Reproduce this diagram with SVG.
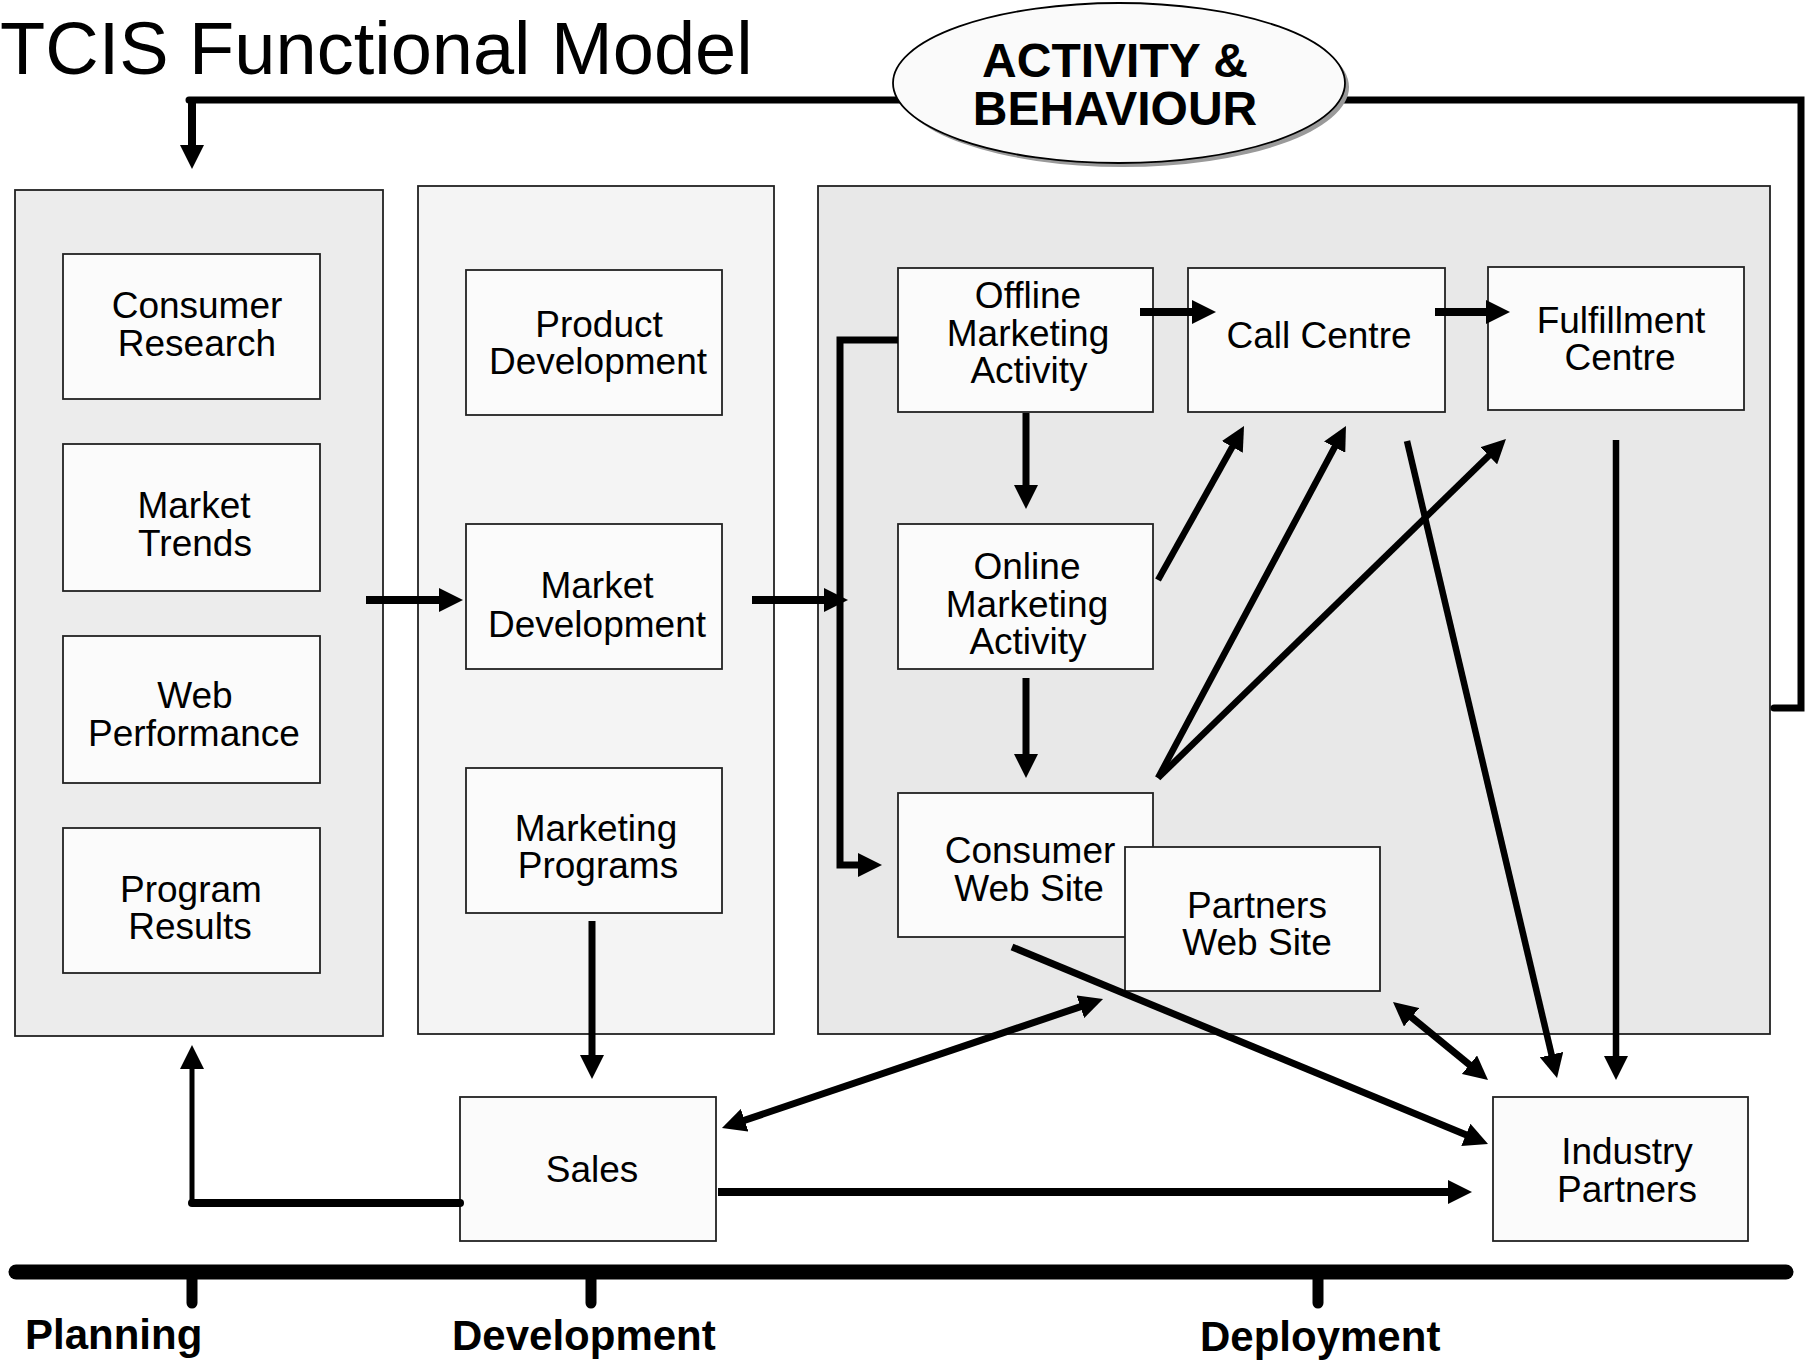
<svg xmlns="http://www.w3.org/2000/svg" width="1805" height="1362" viewBox="0 0 1805 1362">
<style>
.panel{stroke:#222;stroke-width:1.8}
.box{fill:#fbfbfb;stroke:#222;stroke-width:1.8}
.t{font-family:"Liberation Sans",Arial,Helvetica,sans-serif;font-size:37px;text-anchor:middle;fill:#000}
.b{font-family:"Liberation Sans",Arial,Helvetica,sans-serif;font-weight:bold;fill:#000}
.c{fill:none;stroke:#000;stroke-linejoin:miter}
.w8{stroke-width:8}
.w7{stroke-width:7}
.w6{stroke-width:6.5}
.w5{stroke-width:5}
.arr{marker-end:url(#ah)}
.dbl{marker-start:url(#ah);marker-end:url(#ah)}
</style>
<defs>
<marker id="ah" markerUnits="userSpaceOnUse" markerWidth="24" markerHeight="24" refX="2" refY="12" orient="auto-start-reverse" viewBox="0 0 24 24">
<path d="M0,0 L24,12 L0,24 z" fill="#000"/>
</marker>
</defs>
<rect width="1805" height="1362" fill="#fff"/>

<text x="0" y="74" font-family="Liberation Sans,Arial,sans-serif" font-size="74" fill="#000">TCIS Functional Model</text>

<g id="panels">
<rect id="panel-planning" class="panel" x="15" y="190" width="368" height="846" fill="#ececec"/>
<rect id="panel-development" class="panel" x="418" y="186" width="356" height="848" fill="#f4f4f4"/>
<rect id="panel-deployment" class="panel" x="818" y="186" width="952" height="848" fill="#e8e8e8"/>
</g>

<g id="consumer-research"><rect class="box" x="63" y="254" width="257" height="145"/><text class="t"><tspan x="197" y="318">Consumer</tspan><tspan x="197" y="356">Research</tspan></text></g>
<g id="market-trends"><rect class="box" x="63" y="444" width="257" height="147"/><text class="t"><tspan x="194" y="518">Market</tspan><tspan x="195" y="556">Trends</tspan></text></g>
<g id="web-performance"><rect class="box" x="63" y="636" width="257" height="147"/><text class="t"><tspan x="195" y="708">Web</tspan><tspan x="194" y="746">Performance</tspan></text></g>
<g id="program-results"><rect class="box" x="63" y="828" width="257" height="145"/><text class="t"><tspan x="191" y="902">Program</tspan><tspan x="190" y="939">Results</tspan></text></g>

<g id="product-development"><rect class="box" x="466" y="270" width="256" height="145"/><text class="t"><tspan x="599" y="337">Product</tspan><tspan x="598" y="374">Development</tspan></text></g>
<g id="market-development"><rect class="box" x="466" y="524" width="256" height="145"/><text class="t"><tspan x="597" y="598">Market</tspan><tspan x="597" y="637">Development</tspan></text></g>
<g id="marketing-programs"><rect class="box" x="466" y="768" width="256" height="145"/><text class="t"><tspan x="596" y="841">Marketing</tspan><tspan x="598" y="878">Programs</tspan></text></g>

<g id="offline-marketing"><rect class="box" x="898" y="268" width="255" height="144"/><text class="t"><tspan x="1028" y="308">Offline</tspan><tspan x="1028" y="346">Marketing</tspan><tspan x="1029" y="383">Activity</tspan></text></g>
<g id="call-centre"><rect class="box" x="1188" y="268" width="257" height="144"/><text class="t" x="1319" y="348">Call Centre</text></g>
<g id="fulfillment-centre"><rect class="box" x="1488" y="267" width="256" height="143"/><text class="t"><tspan x="1621" y="333">Fulfillment</tspan><tspan x="1620" y="370">Centre</tspan></text></g>
<g id="online-marketing"><rect class="box" x="898" y="524" width="255" height="145"/><text class="t"><tspan x="1027" y="579">Online</tspan><tspan x="1027" y="617">Marketing</tspan><tspan x="1028" y="654">Activity</tspan></text></g>
<g id="consumer-web-site"><rect class="box" x="898" y="793" width="255" height="144"/><text class="t"><tspan x="1030" y="863">Consumer</tspan><tspan x="1029" y="901">Web Site</tspan></text></g>
<g id="partners-web-site"><rect class="box" x="1125" y="847" width="255" height="144"/><text class="t"><tspan x="1257" y="918">Partners</tspan><tspan x="1257" y="955">Web Site</tspan></text></g>

<g id="sales"><rect class="box" x="460" y="1097" width="256" height="144"/><text class="t" x="592" y="1182">Sales</text></g>
<g id="industry-partners"><rect class="box" x="1493" y="1097" width="255" height="144"/><text class="t"><tspan x="1627" y="1164">Industry</tspan><tspan x="1627" y="1202">Partners</tspan></text></g>

<g id="connectors">
<path class="c w7" stroke-linecap="round" d="M189,100 H1801 V708 H1774"/>
<path class="c w8 arr" d="M192,100 V147"/>
<path class="c w8 arr" d="M366,600 H441"/>
<path class="c w8 arr" d="M752,600 H826"/>
<path class="c w7 arr" d="M898,340 H840 V865 H860"/>
<path class="c w7 arr" d="M1026,413 V487"/>
<path class="c w7 arr" d="M1026,678 V756"/>
<path class="c w8 arr" d="M1140,312 H1194"/>
<path class="c w8 arr" d="M1435,312 H1488"/>
<path class="c w6 arr" d="M1158,580 L1233.3,445.2"/>
<path class="c w6 arr" d="M1158,778 L1335.6,445.4"/>
<path class="c w6 arr" d="M1158,778 L1490.2,454.4"/>
<path class="c w6 arr" d="M1407,441 L1552,1056.6"/>
<path class="c w6 arr" d="M1616,440 V1058"/>
<path class="c w7 arr" d="M1012,947 L1467.7,1135.6"/>
<path class="c w7 dbl" d="M742.8,1120.9 L1082.2,1006.1"/>
<path class="c w7 dbl" d="M1410,1016 L1471,1066"/>
<path class="c w8 arr" d="M718,1192 H1450"/>
<path class="c w7 arr" d="M592,921 V1057"/>
<path class="c w8" stroke-linecap="round" d="M460,1203 H192"/>
<path class="c w5 arr" d="M192,1203 V1067"/>
</g>

<g id="activity-behaviour">
<ellipse cx="1123" cy="87" rx="226" ry="80" fill="#9a9a9a"/>
<ellipse cx="1119" cy="83" rx="226" ry="80" fill="#fafafa" stroke="#000" stroke-width="1.8"/>
<text class="b" font-size="48" text-anchor="middle"><tspan x="1115" y="77">ACTIVITY &amp;</tspan><tspan x="1115" y="125">BEHAVIOUR</tspan></text>
</g>

<g id="timeline">
<path class="c" stroke-width="15" stroke-linecap="round" d="M16,1272 H1786"/>
<path class="c" stroke-width="11" stroke-linecap="round" d="M192,1272 V1303 M591,1272 V1303 M1318,1272 V1303"/>
<text class="b" font-size="42" x="25" y="1349">Planning</text>
<text class="b" font-size="42" x="452" y="1350">Development</text>
<text class="b" font-size="42" x="1200" y="1351">Deployment</text>
</g>
</svg>
